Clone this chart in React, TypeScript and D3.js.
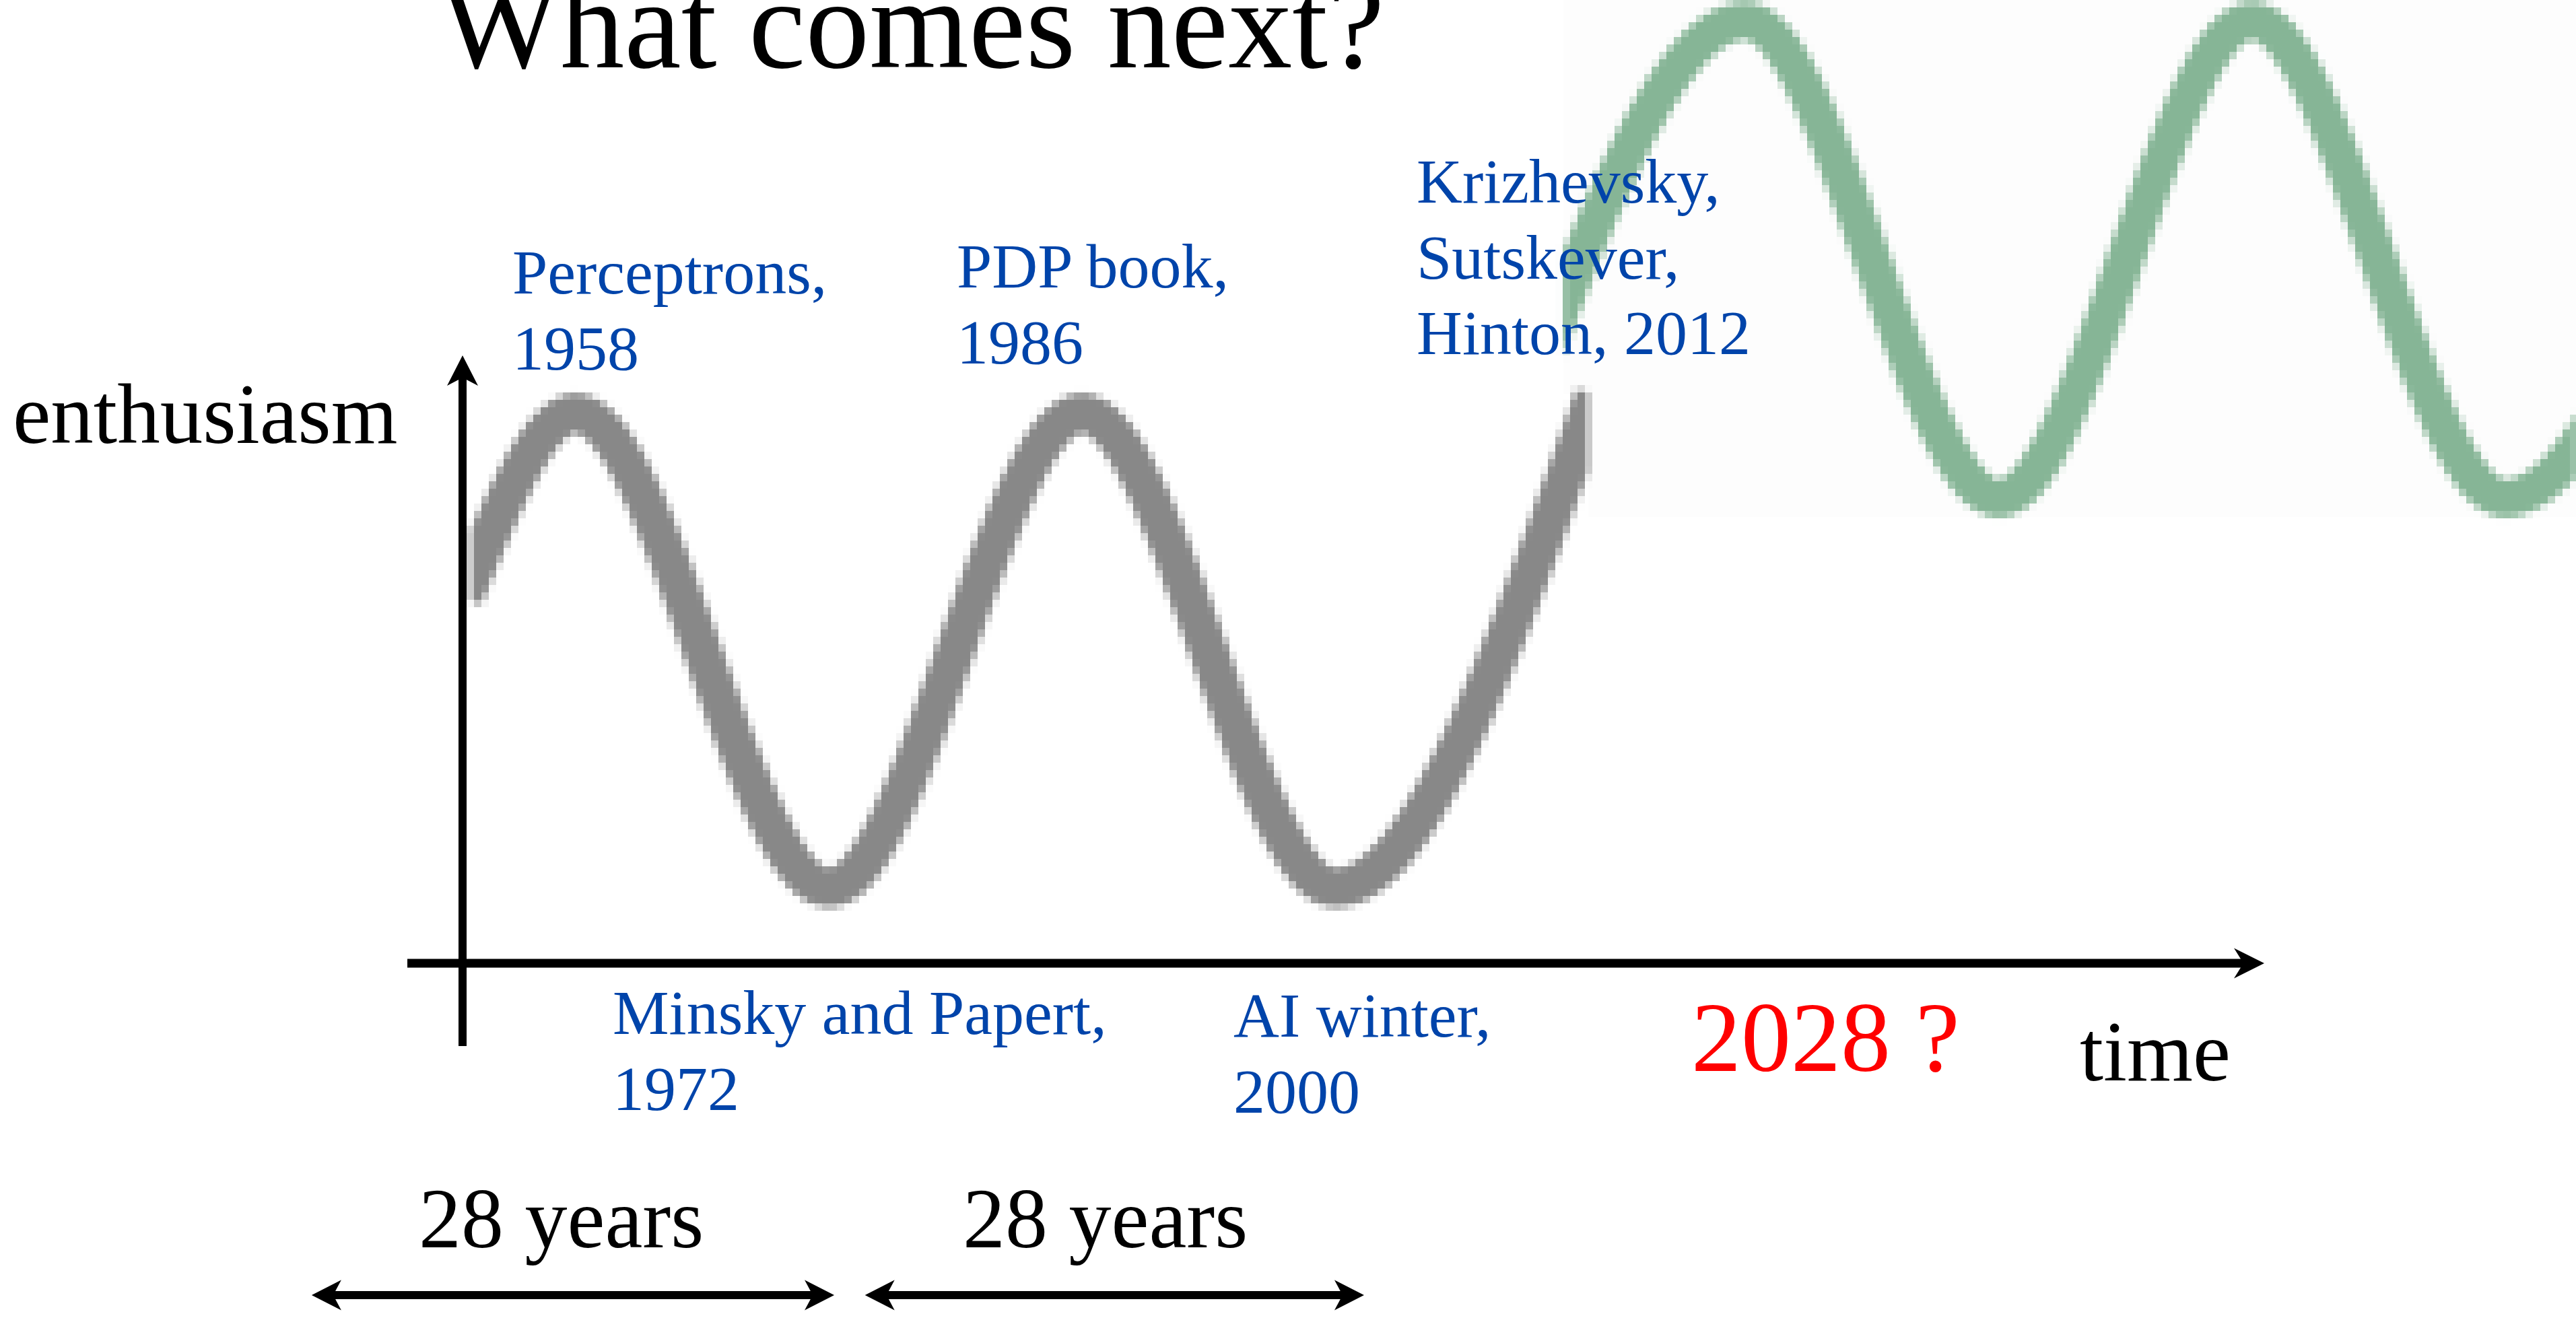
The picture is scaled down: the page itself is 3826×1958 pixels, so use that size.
import React from "react";
import * as d3 from "d3";

// Hype cycle of neural network research: years of peaks and troughs
const cycleYears = [1952.2, 1958, 1972, 1986, 2000, 2014];
const cycleLevels = [0.65, 1, 0, 1, 0, 1];

// Projected next cycles
const nextYears = [2008.7, 2022.7, 2036.7, 2050.7, 2064.7, 2078.7];
const nextLevels = [0, 1, 0, 1, 0, 1];

// Event annotations (one entry per line of text)
const peakLabels = [
  ["Perceptrons,", "1958"],
  ["PDP book,", "1986"],
  ["Krizhevsky,", "Sutskever,", "Hinton, 2012"],
];
const troughLabels = [
  ["Minsky and Papert,", "1972"],
  ["AI winter,", "2000"],
];

// Spans between events
const spanStarts = [1943.4, 1974.0];
const spanEnds = [1972.3, 2001.6];
const spanLabels = ["28 years", "28 years"];

const W = 3826;
const H = 1958;
const SERIF = "'Liberation Serif', 'Times New Roman', Times, serif";
const BLUE = "#0044aa";
const CELL = 11;

const layout = {
  peakLabelPos: [
    { x: 761, y: 436 },
    { x: 1421, y: 427 },
    { x: 2104, y: 301 },
  ],
  troughLabelPos: [
    { x: 910, y: 1536 },
    { x: 1832, y: 1540 },
  ],
  labelLineGap: 112.5,
  spanLabelPos: [
    { x: 622, y: 1853 },
    { x: 1430, y: 1853 },
  ],
  spanY: 1924,
  axisX: 687,
  axisY: 1431,
};

function arrowHead(tipX: number, tipY: number, dx: number, dy: number, len = 45, half = 22.5, notch = 13) {
  // dx, dy: unit direction the arrow points to
  const px = -dy;
  const py = dx;
  const bx = tipX - dx * len;
  const by = tipY - dy * len;
  const nx = tipX - dx * (len - notch);
  const ny = tipY - dy * (len - notch);
  return `M${tipX},${tipY}L${bx + px * half},${by + py * half}L${nx},${ny}L${bx - px * half},${by - py * half}Z`;
}

export default function App() {
  const x = d3.scaleLinear().domain([1958, 2014]).range([855, 2359]);
  const yPast = d3.scaleLinear().domain([0, 1]).range([1319, 614]);
  const yNext = d3.scaleLinear().domain([0, 1]).range([740, 31]);

  const pastLine = d3
    .line<number>()
    .x((_, i) => x(cycleYears[i]))
    .y((d) => yPast(d))
    .curve(d3.curveMonotoneX);
  const nextLine = d3
    .line<number>()
    .x((_, i) => x(nextYears[i]))
    .y((d) => yNext(d))
    .curve(d3.curveMonotoneX);

  const pastX0 = x(cycleYears[0]);
  const pastX1 = x(cycleYears[cycleYears.length - 1]);
  const nextX0 = x(nextYears[0]) + 106;

  const { axisX, axisY } = layout;
  const half = Math.floor(CELL / 2);

  return (
    <svg
      width={W}
      height={H}
      viewBox={`0 0 ${W} ${H}`}
      style={{ position: "absolute", left: 0, top: 0, display: "block", background: "#fff" }}
    >
      <defs>
        <clipPath id="clip-next">
          <rect x={nextX0} y={0} width={W - nextX0} height={768} />
        </clipPath>
        <clipPath id="clip-past">
          <rect x={pastX0} y={560} width={pastX1 - pastX0} height={820} />
        </clipPath>
        {/* coarse, blocky rendering of the curves */}
        <filter
          id="blocky"
          filterUnits="userSpaceOnUse"
          x={0}
          y={0}
          width={W}
          height={H}
          colorInterpolationFilters="sRGB"
        >
          <feGaussianBlur in="SourceGraphic" stdDeviation={3.5} result="soft" />
          <feFlood x={half} y={half} width={1} height={1} floodColor="#000" floodOpacity={1} result="dot" />
          <feComposite in="dot" in2="dot" operator="over" x={0} y={0} width={CELL} height={CELL} result="cell" />
          <feTile in="cell" result="grid" />
          <feComposite in="soft" in2="grid" operator="in" result="samples" />
          <feMorphology in="samples" operator="dilate" radius={half} />
        </filter>
      </defs>

      {/* projected cycles */}
      <rect x={nextX0} y={0} width={W - nextX0} height={768} fill="#fdfdfd" />
      <g filter="url(#blocky)">
        <path
          d={nextLine(nextLevels) || ""}
          fill="none"
          stroke="#86b596"
          strokeWidth={56}
          clipPath="url(#clip-next)"
        />
      </g>

      {/* past cycles */}
      <rect x={pastX0} y={585} width={pastX1 - pastX0} height={770} fill="#fff" />
      <g filter="url(#blocky)">
        <path
          d={pastLine(cycleLevels) || ""}
          fill="none"
          stroke="#888888"
          strokeWidth={58}
          strokeLinecap="square"
          clipPath="url(#clip-past)"
        />
      </g>

      {/* axes */}
      <line x1={axisX} x2={axisX} y1={1554} y2={560} stroke="#000" strokeWidth={12} />
      <path d={arrowHead(axisX, 528, 0, -1, 45, 23, 12)} fill="#000" />
      <line x1={605} x2={3336} y1={axisY} y2={axisY} stroke="#000" strokeWidth={13} />
      <path d={arrowHead(3363, axisY, 1, 0, 45, 22.5, 14)} fill="#000" />

      {/* spans */}
      {spanStarts.map((s, i) => {
        const a = x(s);
        const b = x(spanEnds[i]);
        const y = layout.spanY;
        return (
          <g key={`span-${i}`}>
            <line x1={a + 30} x2={b - 30} y1={y} y2={y} stroke="#000" strokeWidth={12} />
            <path d={arrowHead(a, y, -1, 0, 44, 22.5, 12)} fill="#000" />
            <path d={arrowHead(b, y, 1, 0, 44, 22.5, 12)} fill="#000" />
            <text
              x={layout.spanLabelPos[i].x}
              y={layout.spanLabelPos[i].y}
              fontFamily={SERIF}
              fontSize={126}
              fill="#000"
            >
              {spanLabels[i]}
            </text>
          </g>
        );
      })}

      {/* event labels */}
      {peakLabels.map((lines, i) => (
        <text
          key={`peak-${i}`}
          x={layout.peakLabelPos[i].x}
          y={layout.peakLabelPos[i].y}
          fontFamily={SERIF}
          fontSize={94}
          fill={BLUE}
        >
          {lines.map((t, j) => (
            <tspan key={j} x={layout.peakLabelPos[i].x} dy={j === 0 ? 0 : layout.labelLineGap}>
              {t}
            </tspan>
          ))}
        </text>
      ))}
      {troughLabels.map((lines, i) => (
        <text
          key={`trough-${i}`}
          x={layout.troughLabelPos[i].x}
          y={layout.troughLabelPos[i].y}
          fontFamily={SERIF}
          fontSize={94}
          fill={BLUE}
        >
          {lines.map((t, j) => (
            <tspan key={j} x={layout.troughLabelPos[i].x} dy={j === 0 ? 0 : layout.labelLineGap}>
              {t}
            </tspan>
          ))}
        </text>
      ))}

      {/* titles */}
      <text x={653} y={100} fontFamily={SERIF} fontSize={190} fill="#000">
        What comes next?
      </text>
      <text x={19} y={658} fontFamily={SERIF} fontSize={127} fill="#000">
        enthusiasm
      </text>
      <text x={3089} y={1605} fontFamily={SERIF} fontSize={126} fill="#000">
        time
      </text>
      <text x={2512} y={1591} fontFamily={SERIF} fontSize={148} fill="#ff0000">
        2028 ?
      </text>
    </svg>
  );
}
